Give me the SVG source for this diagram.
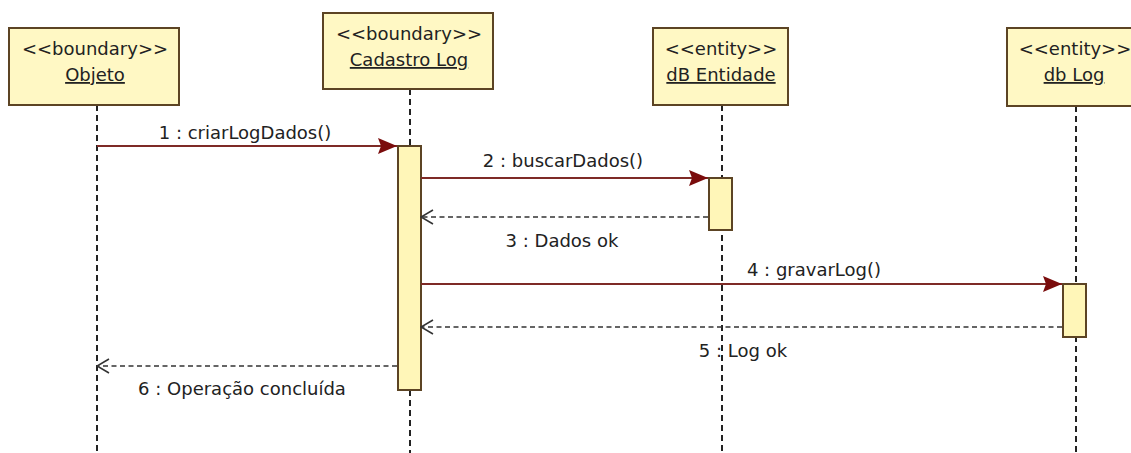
<svg xmlns="http://www.w3.org/2000/svg" width="1131" height="453" viewBox="0 0 1131 453">
  <style>
    text { font-family: "DejaVu Sans", "Liberation Sans", sans-serif; font-size: 18px; fill: #222; }
    .c { text-anchor: middle; }
    .u { text-decoration: underline; }
    .box { fill: #FFF8C4; stroke: #5C4424; stroke-width: 2; }
    .act { fill: #FFF6B8; stroke: #5C4424; stroke-width: 2; }
    .life { stroke: #222; stroke-width: 2; stroke-dasharray: 6 4; fill: none; }
    .msg { stroke: #7E2A26; stroke-width: 2; fill: none; marker-end: url(#filled); }
    .ret { stroke: #333; stroke-width: 1.6; stroke-dasharray: 5 3.5; fill: none; marker-end: url(#open); }
  </style>
  <defs>
    <marker id="filled" markerUnits="userSpaceOnUse" markerWidth="19" markerHeight="16" viewBox="0 0 19 16" refX="19" refY="8" orient="auto">
      <path d="M0,0 L19,8 L0,16 L3,8 z" fill="#7A0C0C"/>
    </marker>
    <marker id="open" markerUnits="userSpaceOnUse" markerWidth="14" markerHeight="18" viewBox="0 0 14 18" refX="13" refY="9" orient="auto">
      <path d="M1,2 L13,9 L1,16" fill="none" stroke="#333" stroke-width="1.6"/>
    </marker>
  </defs>
  <rect width="1131" height="453" fill="#fff"/>

  <g id="lifelines">
    <line class="life" x1="97" y1="105" x2="97" y2="453"/>
    <line class="life" x1="410" y1="89" x2="410" y2="146"/>
    <line class="life" x1="410" y1="390" x2="410" y2="453"/>
    <line class="life" x1="722" y1="105" x2="722" y2="453"/>
    <line class="life" x1="1076" y1="106" x2="1076" y2="453"/>
  </g>

  <g id="objeto">
    <rect class="box" x="9" y="28" width="170" height="77"/>
    <text class="c" x="95" y="55">&lt;&lt;boundary&gt;&gt;</text>
    <text class="c u" x="95" y="81">Objeto</text>
  </g>

  <g id="cadastro-log">
    <rect class="box" x="323" y="13" width="170" height="76"/>
    <text class="c" x="409" y="40">&lt;&lt;boundary&gt;&gt;</text>
    <text class="c u" x="409" y="66">Cadastro Log</text>
    <rect class="act" x="398" y="146" width="23" height="244"/>
  </g>

  <g id="db-entidade">
    <rect class="box" x="653" y="28" width="135" height="77"/>
    <text class="c" x="721" y="55">&lt;&lt;entity&gt;&gt;</text>
    <text class="c u" x="721" y="81">dB Entidade</text>
    <rect class="act" x="709" y="178" width="23" height="52"/>
  </g>

  <g id="db-log">
    <rect class="box" x="1007" y="28" width="138" height="78"/>
    <text class="c" x="1075" y="55">&lt;&lt;entity&gt;&gt;</text>
    <text class="c u" x="1074" y="81">db Log</text>
    <rect class="act" x="1063" y="284" width="23" height="53"/>
  </g>

  <g id="connectors">
    <line class="msg" x1="97" y1="146" x2="397" y2="146"/>
    <text class="c" x="245" y="139">1 : criarLogDados()</text>

    <line class="msg" x1="421" y1="178" x2="708" y2="178"/>
    <text class="c" x="563" y="167">2 : buscarDados()</text>

    <line class="ret" x1="708" y1="217" x2="421" y2="217"/>
    <text class="c" x="562" y="247">3 : Dados ok</text>

    <line class="msg" x1="421" y1="284" x2="1062" y2="284"/>
    <text class="c" x="814" y="276">4 : gravarLog()</text>

    <line class="ret" x1="1062" y1="327" x2="421" y2="327"/>
    <text class="c" x="743" y="357">5 : Log ok</text>

    <line class="ret" x1="397" y1="366" x2="97" y2="366"/>
    <text class="c" x="242" y="395">6 : Operação concluída</text>
  </g>
</svg>
